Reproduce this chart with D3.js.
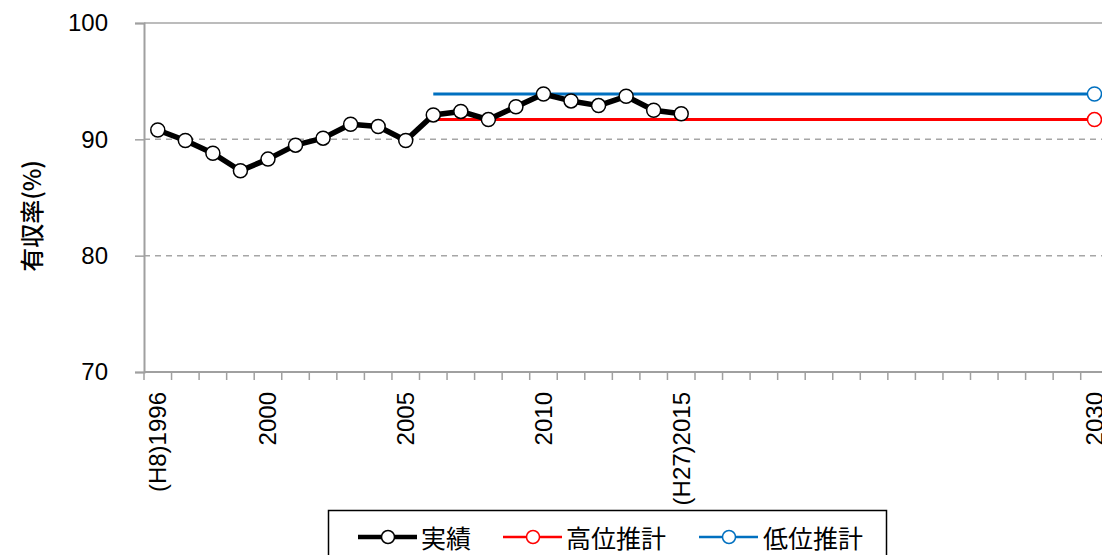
<!DOCTYPE html>
<html><head><meta charset="utf-8">
<script src="https://cdn.jsdelivr.net/npm/d3@7/dist/d3.min.js"></script>
<style>
body{margin:0;background:#fff;}
svg{display:block;}
text{font-family:"Noto Sans CJK JP","Liberation Sans",sans-serif;}
</style></head>
<body><svg id="c" width="1102" height="555"></svg>
<script>
const years = d3.range(1996, 2031);
const actualYears = [1996,1997,1998,1999,2000,2001,2002,2003,2004,2005,2006,2007,2008,2009,2010,2011,2012,2013,2014,2015];
const actualValues = [90.8,89.9,88.8,87.3,88.3,89.5,90.1,91.3,91.1,89.9,92.1,92.4,91.7,92.8,93.9,93.3,92.9,93.7,92.5,92.2];
const highYears = [2006,2030];
const highValues = [91.7,91.7];
const lowYears = [2006,2030];
const lowValues = [93.9,93.9];
const yTicks = [70,80,90,100];
const xLabels = {1996:"(H8)1996",2000:"2000",2005:"2005",2010:"2010",2015:"(H27)2015",2030:"2030"};
const legendNames = ["実績","高位推計","低位推計"];

const svg = d3.select("#c");
const L=144, T=23, B=372, bw=27.55;
const x = d3.scaleBand().domain(years).range([L, L+bw*years.length]).padding(0);
const y = d3.scaleLinear().domain([70,100]).range([B,T]);
const cx = yr => x(yr)+x.bandwidth()/2;
const numFont = "'Liberation Sans',sans-serif";

// gridlines
svg.append("g").selectAll("line").data([80,90]).join("line")
  .attr("x1",L).attr("x2",1102).attr("y1",d=>y(d)).attr("y2",d=>y(d))
  .attr("stroke","#a6a6a6").attr("stroke-width",1.5).attr("stroke-dasharray","6,5");
svg.append("line").attr("x1",L).attr("x2",1102).attr("y1",y(100)).attr("y2",y(100))
  .attr("stroke","#a6a6a6").attr("stroke-width",1.5);

// y axis
const ya = svg.append("g").attr("transform",`translate(${L},0)`)
  .call(d3.axisLeft(y).tickValues(yTicks).tickSize(9).tickPadding(27));
ya.select(".domain").attr("stroke","#a0a0a0").attr("stroke-width",2);
ya.selectAll(".tick line").attr("stroke","#a0a0a0").attr("stroke-width",1.5);
ya.selectAll(".tick text").attr("font-size",24).attr("fill","#000").style("font-family",numFont);

// x axis line + boundary ticks
svg.append("line").attr("x1",L).attr("x2",1102).attr("y1",B).attr("y2",B).attr("stroke","#a0a0a0").attr("stroke-width",2);
svg.append("g").selectAll("line").data(years.concat([2031])).join("line")
  .attr("x1",d=>d===2031?x(2030)+bw:x(d)).attr("x2",d=>d===2031?x(2030)+bw:x(d))
  .attr("y1",B).attr("y2",B+8).attr("stroke","#a0a0a0").attr("stroke-width",1.5);

// x labels via axis
const xa = svg.append("g").attr("transform",`translate(0,${B})`)
  .call(d3.axisBottom(x).tickValues(Object.keys(xLabels).map(Number)).tickFormat(d=>xLabels[d]).tickSize(0));
xa.select(".domain").remove();
xa.selectAll(".tick text").attr("font-size",24).attr("fill","#000")
  .style("font-family",numFont)
  .attr("transform","rotate(-90)").attr("text-anchor","end")
  .attr("x",-20).attr("y",0).attr("dy","0.35em");

// y label
svg.append("text").attr("transform","translate(30,216) rotate(-90)")
  .attr("text-anchor","middle").attr("dominant-baseline","central")
  .attr("font-size",24).attr("font-weight",500).text("有収率(%)");

const line = d3.line().x(d=>cx(d[0])).y(d=>y(d[1]));
const hi = highYears.map((d,i)=>[d,highValues[i]]);
const lo = lowYears.map((d,i)=>[d,lowValues[i]]);
const ac = actualYears.map((d,i)=>[d,actualValues[i]]);

svg.append("path").datum(lo).attr("d",line).attr("fill","none").attr("stroke","#0070c0").attr("stroke-width",3);
svg.append("path").datum(hi).attr("d",line).attr("fill","none").attr("stroke","#ff0000").attr("stroke-width",3);
svg.append("circle").attr("cx",cx(2030)).attr("cy",y(lowValues[1])).attr("r",7).attr("fill","#fff").attr("stroke","#0070c0").attr("stroke-width",1.5);
svg.append("circle").attr("cx",cx(2030)).attr("cy",y(highValues[1])).attr("r",7).attr("fill","#fff").attr("stroke","#ff0000").attr("stroke-width",1.5);

svg.append("path").datum(ac).attr("d",line).attr("fill","none").attr("stroke","#000").attr("stroke-width",5.5).attr("stroke-linejoin","round");
svg.append("g").selectAll("circle").data(ac).join("circle")
  .attr("cx",d=>cx(d[0])).attr("cy",d=>y(d[1])).attr("r",7)
  .attr("fill","#fff").attr("stroke","#000").attr("stroke-width",1.5);

// legend
const lg = svg.append("g");
lg.append("rect").attr("x",328.5).attr("y",510.5).attr("width",558).attr("height",60)
  .attr("fill","#fff").attr("stroke","#000").attr("stroke-width",1.5);
const items = [{x:358,c:"#000",w:4.5,tx:421},{x:503,c:"#ff0000",w:2.5,tx:566},{x:699,c:"#0070c0",w:2.5,tx:763}];
items.forEach((it,i)=>{
  lg.append("line").attr("x1",it.x).attr("x2",it.x+59).attr("y1",537).attr("y2",537).attr("stroke",it.c).attr("stroke-width",it.w);
  lg.append("circle").attr("cx",it.x+30).attr("cy",537).attr("r",6.5).attr("fill","#fff").attr("stroke",it.c).attr("stroke-width",1.5);
  lg.append("text").attr("x",it.tx).attr("y",537).attr("dominant-baseline","central").attr("font-size",25).text(legendNames[i]);
});
</script></body></html>
